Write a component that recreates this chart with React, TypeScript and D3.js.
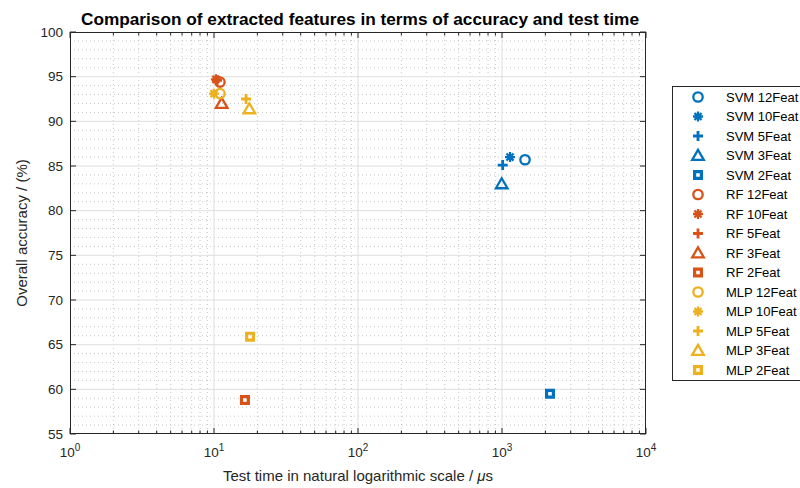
import { useEffect, useRef } from 'react';
import * as d3 from 'd3';

const models = ['SVM', 'RF', 'MLP'];
const featureSets = ['12Feat', '10Feat', '5Feat', '3Feat', '2Feat'];
const markerShapes = ['circle', 'asterisk', 'plus', 'triangle', 'square'];
const modelColors = ['#0072BD', '#D95319', '#EDB120'];

// test time (µs) per feature set, same order as featureSets
const svmTime = [1445, 1137, 1011, 995, 2154];
const rfTime = [11.0, 10.3, 10.5, 11.3, 16.4];
const mlpTime = [11.0, 10.0, 16.7, 17.6, 17.8];

// overall accuracy (%)
const svmAcc = [85.7, 86.0, 85.1, 83.0, 59.5];
const rfAcc = [94.4, 94.7, 94.6, 92.0, 58.8];
const mlpAcc = [93.1, 93.1, 92.5, 91.4, 65.9];

const xTicks = [1, 10, 100, 1000, 10000];
const yTicks = [55, 60, 65, 70, 75, 80, 85, 90, 95, 100];

function markerPath(shape: string) {
  const p = d3.path();
  if (shape === 'circle') {
    p.arc(0, 0, 4.7, 0, 2 * Math.PI);
  } else if (shape === 'asterisk') {
    const r = 5;
    const d = r * Math.SQRT1_2;
    p.moveTo(-r, 0); p.lineTo(r, 0);
    p.moveTo(0, -r); p.lineTo(0, r);
    p.moveTo(-d, -d); p.lineTo(d, d);
    p.moveTo(-d, d); p.lineTo(d, -d);
  } else if (shape === 'plus') {
    const r = 5;
    p.moveTo(-r, 0); p.lineTo(r, 0);
    p.moveTo(0, -r); p.lineTo(0, r);
  } else if (shape === 'triangle') {
    p.moveTo(0, -5.6); p.lineTo(5.8, 4.4); p.lineTo(-5.8, 4.4); p.closePath();
  } else {
    p.rect(-3.4, -3.4, 6.8, 6.8);
  }
  return p.toString();
}

function strokeFor(shape: string) {
  if (shape === 'square') return 3.2;
  if (shape === 'plus') return 2.8;
  return 2.3;
}

export default function App() {
  const ref = useRef<SVGSVGElement>(null);

  useEffect(() => {
    if (!ref.current) return;
    const svg = d3.select(ref.current);
    svg.selectAll('*').remove();

    const left = 70, right = 646, top = 32, bottom = 434;
    const x = d3.scaleLog().domain([1, 10000]).range([left, right]);
    const y = d3.scaleLinear().domain([55, 100]).range([bottom, top]);
    const font = 'Liberation Sans, Arial, Helvetica, sans-serif';
    const axisColor = '#262626';

    svg.append('rect').attr('width', 800).attr('height', 488).attr('fill', '#fff');

    const grid = svg.append('g');
    // minor grid
    const xMinor: number[] = [];
    for (let e = 0; e < 4; e++) for (let m = 2; m <= 9; m++) xMinor.push(m * 10 ** e);
    const yMinor = d3.range(56, 100).filter((v) => v % 5 !== 0);
    xMinor.forEach((v) => {
      grid.append('line').attr('x1', x(v)).attr('x2', x(v)).attr('y1', top).attr('y2', bottom)
        .attr('stroke', '#c8c8c8').attr('stroke-dasharray', '1,3');
    });
    yMinor.forEach((v) => {
      grid.append('line').attr('x1', left).attr('x2', right).attr('y1', y(v)).attr('y2', y(v))
        .attr('stroke', '#c8c8c8').attr('stroke-dasharray', '1,3');
    });
    // major grid
    xTicks.slice(1, -1).forEach((v) => {
      grid.append('line').attr('x1', x(v)).attr('x2', x(v)).attr('y1', top).attr('y2', bottom)
        .attr('stroke', '#dfdfdf');
    });
    yTicks.slice(1, -1).forEach((v) => {
      grid.append('line').attr('x1', left).attr('x2', right).attr('y1', y(v)).attr('y2', y(v))
        .attr('stroke', '#dfdfdf');
    });

    // box + ticks
    const ax = svg.append('g').attr('stroke', axisColor).attr('fill', 'none');
    ax.append('rect').attr('x', left + 0.5).attr('y', top + 0.5).attr('width', right - left - 1).attr('height', bottom - top - 1);
    xTicks.forEach((v) => {
      ax.append('line').attr('x1', x(v)).attr('x2', x(v)).attr('y1', bottom).attr('y2', bottom - 6);
      ax.append('line').attr('x1', x(v)).attr('x2', x(v)).attr('y1', top).attr('y2', top + 6);
    });
    xMinor.forEach((v) => {
      ax.append('line').attr('x1', x(v)).attr('x2', x(v)).attr('y1', bottom).attr('y2', bottom - 3.5);
      ax.append('line').attr('x1', x(v)).attr('x2', x(v)).attr('y1', top).attr('y2', top + 3.5);
    });
    yTicks.forEach((v) => {
      ax.append('line').attr('x1', left).attr('x2', left + 6).attr('y1', y(v)).attr('y2', y(v));
      ax.append('line').attr('x1', right).attr('x2', right - 6).attr('y1', y(v)).attr('y2', y(v));
    });

    // tick labels
    yTicks.forEach((v) => {
      svg.append('text').attr('x', left - 7).attr('y', y(v)).attr('dy', '0.35em')
        .attr('text-anchor', 'end').attr('font-family', font).attr('font-size', 13.5)
        .attr('fill', axisColor).text(v);
    });
    xTicks.forEach((v) => {
      const t = svg.append('text').attr('x', x(v)).attr('y', bottom + 23)
        .attr('text-anchor', 'middle').attr('font-family', font).attr('font-size', 13.5)
        .attr('fill', axisColor);
      t.append('tspan').text('10');
      t.append('tspan').attr('dy', -6).attr('font-size', 10).text(Math.round(Math.log10(v)));
    });

    // axis titles
    const xl = svg.append('text').attr('x', (left + right) / 2).attr('y', bottom + 47)
      .attr('text-anchor', 'middle').attr('font-family', font).attr('font-size', 15).attr('fill', axisColor);
    xl.append('tspan').text('Test time in natural logarithmic scale / ');
    xl.append('tspan').attr('font-style', 'italic').text('\u03bc');
    xl.append('tspan').text('s');

    svg.append('text').attr('transform', `translate(27,${(top + bottom) / 2}) rotate(-90)`)
      .attr('text-anchor', 'middle').attr('font-family', font).attr('font-size', 15)
      .attr('fill', axisColor).text('Overall accuracy / (%)');

    svg.append('text').attr('x', (left + right) / 2 + 2).attr('y', 25).attr('text-anchor', 'middle')
      .attr('font-family', font).attr('font-size', 16.5).attr('font-weight', 'bold')
      .attr('textLength', 558).attr('lengthAdjust', 'spacingAndGlyphs')
      .attr('fill', '#000').text('Comparison of extracted features in terms of accuracy and test time');

    // markers
    const times = [svmTime, rfTime, mlpTime];
    const accs = [svmAcc, rfAcc, mlpAcc];
    const pts = svg.append('g');
    models.forEach((m, mi) => {
      featureSets.forEach((f, fi) => {
        pts.append('path').attr('d', markerPath(markerShapes[fi]))
          .attr('transform', `translate(${x(times[mi][fi])},${y(accs[mi][fi])})`)
          .attr('fill', 'none').attr('stroke', modelColors[mi])
          .attr('stroke-width', strokeFor(markerShapes[fi]));
      });
    });

    // legend
    const lg = svg.append('g');
    lg.append('rect').attr('x', 672.5).attr('y', 86.5).attr('width', 150).attr('height', 294)
      .attr('fill', '#fff').attr('stroke', axisColor);
    models.forEach((m, mi) => {
      featureSets.forEach((f, fi) => {
        const yy = 97 + (mi * featureSets.length + fi) * 19.5;
        lg.append('path').attr('d', markerPath(markerShapes[fi]))
          .attr('transform', `translate(698,${yy})`)
          .attr('fill', 'none').attr('stroke', modelColors[mi])
          .attr('stroke-width', strokeFor(markerShapes[fi]));
        lg.append('text').attr('x', 726).attr('y', yy).attr('dy', '0.35em')
          .attr('font-family', font).attr('font-size', 13).attr('fill', '#000')
          .text(`${m} ${f}`);
      });
    });
  }, []);

  return (
    <svg ref={ref} width={800} height={488} style={{ position: 'absolute', left: 0, top: 0 }} />
  );
}
